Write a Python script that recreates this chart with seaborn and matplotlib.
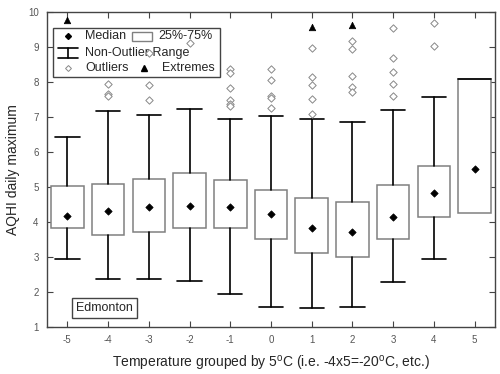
import numpy as np
import pandas as pd
import seaborn as sns
import matplotlib.pyplot as plt
from matplotlib.patches import Rectangle

# temperature groups (x5 degC)
groups = [-5, -4, -3, -2, -1, 0, 1, 2, 3, 4, 5]
medians = [4.17, 4.31, 4.43, 4.46, 4.43, 4.23, 3.83, 3.71, 4.14, 4.83, 5.51]
q1 = [3.83, 3.63, 3.71, 3.83, 3.83, 3.51, 3.11, 3.00, 3.51, 4.14, 4.26]
q3 = [5.03, 5.09, 5.22, 5.40, 5.20, 4.91, 4.69, 4.57, 5.06, 5.60, 8.09]
whisker_low = [2.94, 2.37, 2.37, 2.31, 1.94, 1.57, 1.54, 1.57, 2.29, 2.94, 4.26]
whisker_high = [6.43, 7.17, 7.06, 7.23, 6.94, 7.03, 6.94, 6.86, 7.20, 7.57, 8.09]

outlier_group = [-4, -4, -4,
                 -3, -3, -3,
                 -2,
                 -1, -1, -1, -1, -1, -1,
                 0, 0, 0, 0, 0,
                 1, 1, 1, 1, 1,
                 2, 2, 2, 2, 2,
                 3, 3, 3, 3, 3,
                 4, 4]
outlier_value = [7.94, 7.66, 7.60,
                 8.83, 7.91, 7.49,
                 9.11,
                 8.36, 8.26, 7.83, 7.49, 7.37, 7.31,
                 8.37, 8.06, 7.60, 7.54, 7.26,
                 8.97, 8.14, 7.91, 7.51, 7.09,
                 9.17, 8.94, 8.17, 7.86, 7.71,
                 9.54, 8.69, 8.29, 7.94, 7.60,
                 9.69, 9.03]

extreme_group = [-5, 1, 2]
extreme_value = [9.77, 9.57, 9.63]

sns.set_style('ticks')
plt.rcParams['font.family'] = ['Liberation Sans', 'DejaVu Sans']
plt.rcParams['mathtext.fontset'] = 'custom'
plt.rcParams['mathtext.rm'] = 'Liberation Sans'

fig = plt.figure(figsize=(5, 3.74), dpi=100)
ax = fig.add_axes([0.094, 0.126, 0.896, 0.842])

stats = []
for g, m, a, b, lo, hi in zip(groups, medians, q1, q3, whisker_low, whisker_high):
    stats.append({'label': str(g), 'med': m, 'q1': a, 'q3': b,
                  'whislo': lo, 'whishi': hi, 'fliers': []})

cap_w = [0.6] * (len(groups) - 1) + [0.8]
parts = ax.bxp(stats, positions=groups, widths=0.8, capwidths=cap_w,
               patch_artist=True, showfliers=False,
               boxprops=dict(facecolor='white', edgecolor='#808080', linewidth=1.1),
               whiskerprops=dict(color='black', linewidth=1.2),
               capprops=dict(color='black', linewidth=1.2),
               medianprops=dict(linewidth=0))
# last group has no whiskers below the box
parts['caps'][-2].set_visible(False)

med_df = pd.DataFrame({'group': groups, 'value': medians})
sns.scatterplot(data=med_df, x='group', y='value', marker='D', s=14,
                color='black', edgecolor='black', linewidth=0.5, ax=ax, zorder=5)

out_df = pd.DataFrame({'group': outlier_group, 'value': outlier_value})
sns.scatterplot(data=out_df, x='group', y='value', marker='D', s=14,
                facecolor='white', edgecolor='#888888', linewidth=0.7, ax=ax, zorder=6)

ext_df = pd.DataFrame({'group': extreme_group, 'value': extreme_value})
sns.scatterplot(data=ext_df, x='group', y='value', marker='^', s=22,
                color='black', edgecolor='black', linewidth=0.5, ax=ax, zorder=6)

ax.set_xlim(-5.5, 5.5)
ax.set_ylim(1, 10)
ax.set_xticks(groups)
ax.set_xticklabels([str(g) for g in groups])
ax.set_yticks(range(1, 11))
ax.tick_params(direction='in', length=4, width=0.8, top=True, right=True,
               labelsize=7, labelcolor='#555555', color='#444444', pad=6)
for s in ax.spines.values():
    s.set_color('#444444')
    s.set_linewidth(1.0)

ax.set_xlabel('Temperature grouped by 5$^\\mathrm{o}$C (i.e. -4x5=-20$^\\mathrm{o}$C, etc.)',
              fontsize=10, labelpad=6)
ax.set_ylabel('AQHI daily maximum', fontsize=10, labelpad=6)

# legend drawn by hand
tr = ax.transAxes
ax.add_patch(Rectangle((0.013, 0.794), 0.373, 0.155, transform=tr,
                       facecolor='none', edgecolor='#444444', linewidth=1.0, zorder=4))
ax.plot([0.047], [0.924], transform=tr, marker='D', ms=3, color='black', zorder=7)
ax.text(0.085, 0.924, 'Median', transform=tr, fontsize=9, va='center')
ax.add_patch(Rectangle((0.19, 0.908), 0.044, 0.029, transform=tr,
                       facecolor='white', edgecolor='#808080', linewidth=1.0, zorder=4))
ax.text(0.248, 0.924, '25%-75%', transform=tr, fontsize=9, va='center')
ax.plot([0.025, 0.069], [0.886, 0.886], transform=tr, color='black', lw=1.2)
ax.plot([0.025, 0.069], [0.854, 0.854], transform=tr, color='black', lw=1.2)
ax.plot([0.047, 0.047], [0.854, 0.886], transform=tr, color='black', lw=1.2)
ax.text(0.085, 0.870, 'Non-Outlier Range', transform=tr, fontsize=9, va='center')
ax.plot([0.047], [0.822], transform=tr, marker='D', ms=3, mfc='white',
        mec='#888888', mew=0.7)
ax.text(0.085, 0.822, 'Outliers', transform=tr, fontsize=9, va='center')
ax.plot([0.217], [0.822], transform=tr, marker='^', ms=4, color='black')
ax.text(0.257, 0.822, 'Extremes', transform=tr, fontsize=9, va='center')

ax.text(0.128, 0.06, 'Edmonton', transform=tr, fontsize=9, ha='center', va='center',
        bbox=dict(boxstyle='square,pad=0.3', facecolor='white', edgecolor='#444444',
                  linewidth=1.0))

fig.savefig('out.png', dpi=100)
